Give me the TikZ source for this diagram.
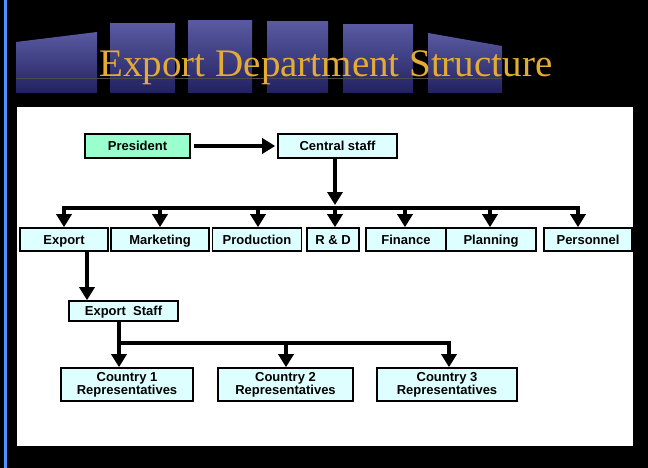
\documentclass[tikz,border=0pt]{standalone}
\usepackage{fontspec}
\setmainfont{Liberation Sans}
\newfontfamily\titlefont{Liberation Serif}
\usetikzlibrary{arrows.meta}
\definecolor{boxc}{HTML}{DDFFFF}
\definecolor{presc}{HTML}{99FFCC}
\definecolor{goldc}{HTML}{E4AC32}
\definecolor{panelc}{HTML}{30308A}
\tikzset{
  box/.style={draw=black,line width=1.6pt,fill=boxc,inner sep=0pt,font=\bfseries\fontsize{13}{12}\selectfont,align=center,text height=10.5pt,text depth=1.5pt},
  cbox/.style={box,text height=,text depth=},
  arr/.style={line width=4.5pt,-{Triangle[length=13pt,width=15pt]}},
  bar/.style={line width=4.5pt},
  panel/.style={top color=panelc!80!white,bottom color=panelc!70!black,draw=none}
}
\begin{document}
\begin{tikzpicture}[x=1pt,y=-1pt]
\fill[black] (0,0) rectangle (648,468);
\useasboundingbox (0,0) rectangle (648,468);
\fill[blue!60!cyan!70!white] (4,0) rectangle (6.5,468);
% header panels
\fill[panel] (16,42) -- (97,32) -- (97,93) -- (16,93) -- cycle;
\fill[panel] (110,24) rectangle (175,93);
\fill[panel] (188,21) rectangle (252,93);
\fill[panel] (267,22) rectangle (328,93);
\fill[panel] (343,25) rectangle (413,93);
\fill[panel] (428,33) -- (502,46) -- (502,93) -- (428,93) -- cycle;
\draw[black!70,line width=0.6pt] (16,78) -- (502,78);
\node[font=\titlefont\fontsize{39}{39}\selectfont,text=goldc,anchor=base] (title) at (326,77) {Export Department Structure};
% white panel
\fill[white] (17,107) rectangle (633,446);
% nodes
\node[box,fill=presc,minimum width=105,minimum height=24] (pres) at (137.5,146) {President};
\node[box,minimum width=119,minimum height=24] (cent) at (337.5,146) {Central staff};
\node[box,minimum width=88,minimum height=23] (exp) at (64,239.5) {Export};
\node[box,minimum width=98,minimum height=23] (mkt) at (160,239.5) {Marketing};
\node[box,minimum width=89,minimum height=23] (prod) at (257,239.5) {Production};
\node[box,minimum width=52,minimum height=23] (rd) at (333,239.5) {R \& D};
\node[box,minimum width=80,minimum height=23] (fin) at (406,239.5) {Finance};
\node[box,minimum width=90,minimum height=23] (plan) at (491,239.5) {Planning};
\node[box,minimum width=88,minimum height=23] (pers) at (588,239.5) {Personnel};
\node[box,minimum width=109,minimum height=20] (es) at (123.5,311) {Export\ \ Staff};
\node[cbox,minimum width=132,minimum height=33] (c1) at (127,384.5) {Country 1\\Representatives};
\node[cbox,minimum width=135,minimum height=33] (c2) at (285.5,384.5) {Country 2\\Representatives};
\node[cbox,minimum width=140,minimum height=33] (c3) at (447,384.5) {Country 3\\Representatives};
% connectors
\draw[arr] ([xshift=3pt]pres.east) -- ([xshift=-2pt]cent.west);
\draw[arr] (335,0 |- cent.south) -- (335,205);
\draw[bar] (62,208) -- (580,208);
\foreach \n/\x in {exp/64,mkt/160,prod/258,rd/335,fin/405,plan/490,pers/578}
  \draw[arr] (\x,206) -- (\x,0 |- \n.north);
\draw[arr] (87,0 |- exp.south) -- (87,0 |- es.north);
\draw[bar] (119,0 |- es.south) -- (119,345);
\draw[bar] (117,343) -- (451,343);
\foreach \n/\x in {c1/119,c2/286,c3/449}
  \draw[arr] (\x,341) -- (\x,0 |- \n.north);
\end{tikzpicture}
\end{document}
